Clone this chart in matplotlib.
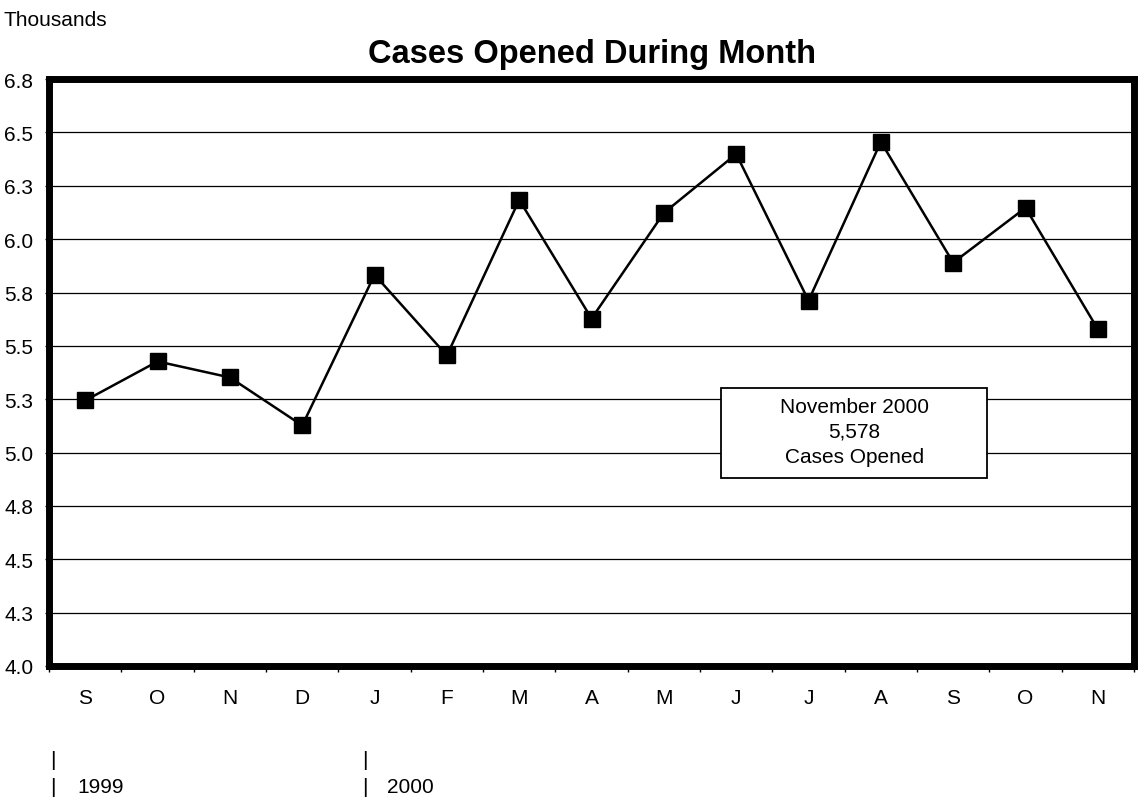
import matplotlib.pyplot as plt
import numpy as np
from matplotlib.patches import Rectangle

plt.rcParams['font.family'] = ['Liberation Sans', 'DejaVu Sans']

# monthly cases opened, thousands (Sep 1999 - Nov 2000)
months = ['S', 'O', 'N', 'D', 'J', 'F', 'M', 'A', 'M', 'J', 'J', 'A', 'S', 'O', 'N']
cases = [5.244, 5.427, 5.352, 5.127, 5.833, 5.455, 6.184, 5.628,
         6.123, 6.399, 5.712, 6.456, 5.890, 6.147, 5.578]
yticks = [4.0, 4.25, 4.5, 4.75, 5.0, 5.25, 5.5, 5.75, 6.0, 6.25, 6.5, 6.75]
ylabels = ['4.0', '4.3', '4.5', '4.8', '5.0', '5.3', '5.5', '5.8', '6.0', '6.3', '6.5', '6.8']

fig = plt.figure(figsize=(11.42, 8.04), dpi=100)
ax = fig.add_axes([0.0430, 0.1704, 0.950, 0.730])

x = np.arange(len(months))
ax.plot(x, cases, color='black', linewidth=1.8, marker='s', markersize=11.5, zorder=3)

ax.set_xlim(-0.5, len(months) - 0.5)
ax.set_ylim(4.0, 6.75)
ax.set_yticks(yticks)
ax.set_yticklabels(ylabels, fontsize=15)
ax.set_xticks(x)
ax.set_xticklabels(months, fontsize=15)
ax.tick_params(axis='x', length=0, pad=16)
ax.set_xticks(np.arange(len(months) + 1) - 0.5, minor=True)
ax.tick_params(axis='x', which='minor', length=4, width=1)
ax.tick_params(axis='y', length=3, width=1, pad=8.5)
ax.grid(axis='y', color='black', linewidth=0.9)
ax.set_axisbelow(True)
for s in ax.spines.values():
    s.set_linewidth(5)

ax.set_title('Cases Opened During Month', fontsize=23.5, fontweight='bold', pad=12)
fig.text(0.003, 0.986, 'Thousands', fontsize=15, va='top', ha='left')

# note box
ax.add_patch(Rectangle((0.619, 0.320), 0.2455, 0.1536, transform=ax.transAxes,
                       facecolor='white', edgecolor='black', linewidth=1.3, zorder=5))
ax.text(0.742, 0.400, 'November 2000\n5,578\nCases Opened', transform=ax.transAxes,
        fontsize=15, ha='center', va='center', linespacing=1.4, zorder=6)

# year markers below the axis
for xb, xy, yr in [(0.0464, 0.0674, '1999'), (0.3196, 0.3389, '2000')]:
    fig.text(xb, 0.0547, '|', fontsize=15, va='center', ha='center')
    fig.text(xb, 0.0211, '|', fontsize=15, va='center', ha='center')
    fig.text(xy, 0.0211, yr, fontsize=15, va='center', ha='left')

fig.savefig('out.png', dpi=100)
